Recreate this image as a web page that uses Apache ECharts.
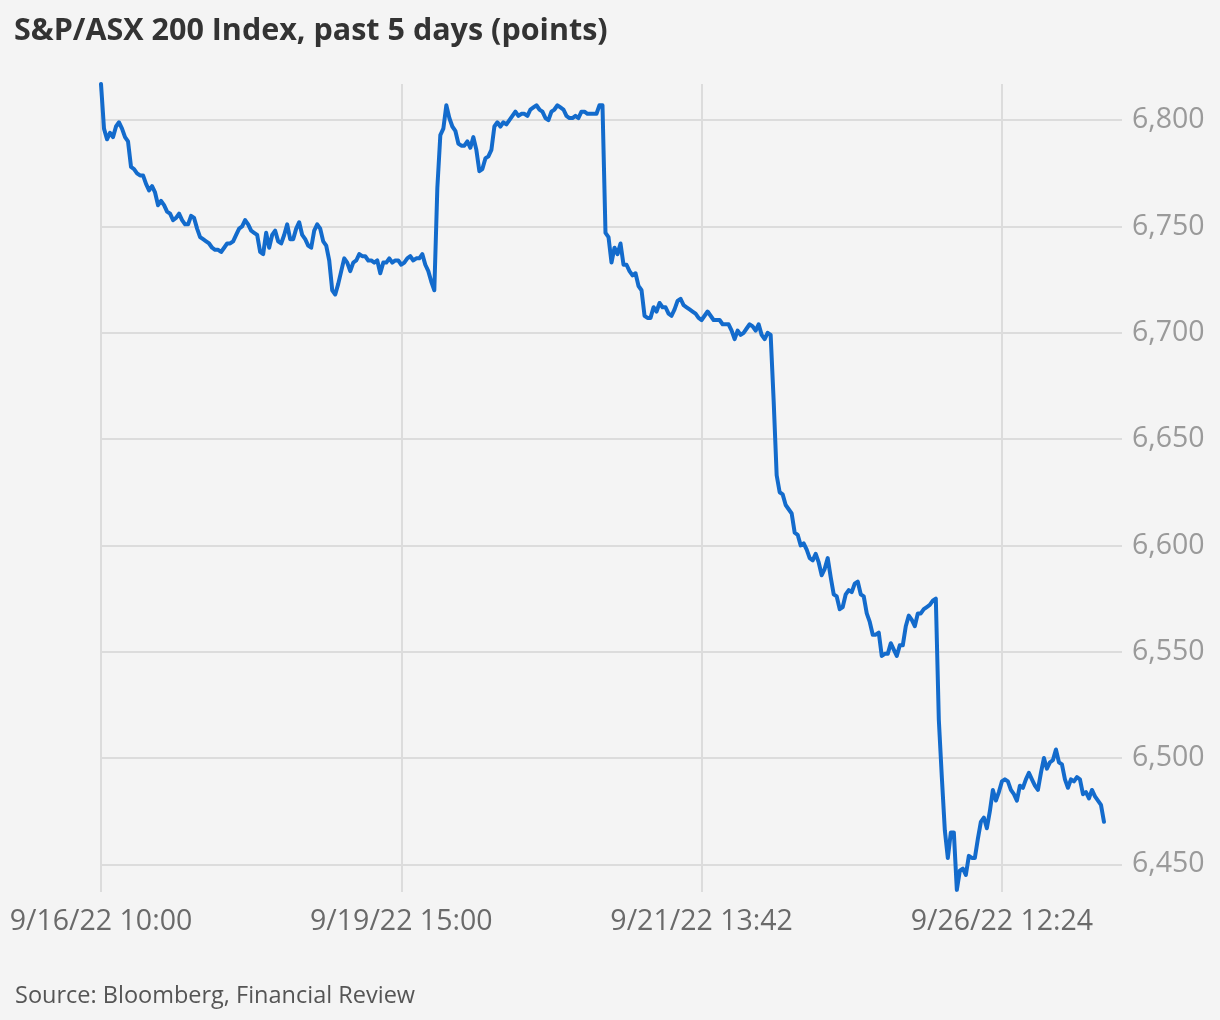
<!DOCTYPE html>
<html><head><meta charset="utf-8">
<script src="https://cdn.jsdelivr.net/npm/echarts@6/dist/echarts.min.js"></script>
<style>html,body{margin:0;padding:0;background:#f4f4f4}#c{width:1220px;height:1020px}</style>
</head><body><div id="c"></div><script>
const titleText = 'S&P/ASX 200 Index, past 5 days (points)';
const sourceText = 'Source: Bloomberg, Financial Review';
const xTickLabels = ['9/16/22 10:00', '9/19/22 15:00', '9/21/22 13:42', '9/26/22 12:24'];
const stepsPerLabel = 100;
const axisSteps = 341;
const yMin = 6437, yMax = 6817, yStep = 50;
const indexValues = [
6817,6796,6791,6794,6792,6797,6799,6796,6792,6790,
6778,6777,6775,6774,6774,6770,6767,6769,6766,6760,
6762,6760,6757,6756,6753,6754,6756,6753,6751,6751,
6755,6754,6749,6745,6744,6743,6742,6740,6739,6739,
6738,6740,6742,6742,6743,6746,6749,6750,6753,6751,
6748,6747,6746,6738,6737,6747,6740,6746,6748,6743,
6742,6746,6751,6744,6744,6749,6752,6746,6744,6741,
6740,6748,6751,6749,6743,6741,6734,6720,6718,6723,
6729,6735,6733,6729,6733,6734,6737,6736,6736,6734,
6734,6733,6734,6728,6733,6733,6735,6733,6734,6734,
6732,6733,6735,6736,6734,6735,6735,6737,6732,6729,
6724,6720,6768,6793,6796,6807,6801,6797,6795,6789,
6788,6788,6790,6787,6792,6786,6776,6777,6782,6783,
6786,6797,6799,6797,6799,6798,6800,6802,6804,6802,
6803,6803,6802,6805,6806,6807,6805,6804,6801,6800,
6804,6805,6807,6806,6805,6802,6801,6801,6802,6801,
6804,6804,6803,6803,6803,6803,6807,6807,6747,6745,
6733,6740,6737,6742,6732,6732,6729,6727,6728,6722,
6720,6708,6707,6707,6712,6710,6714,6712,6712,6709,
6708,6711,6715,6716,6713,6712,6711,6710,6709,6707,
6706,6708,6710,6708,6706,6706,6706,6704,6704,6704,
6701,6697,6701,6699,6700,6702,6704,6703,6701,6704,
6699,6697,6700,6699,6668,6633,6625,6624,6619,6617,
6615,6606,6605,6600,6601,6598,6594,6593,6596,6592,
6586,6589,6594,6585,6577,6576,6570,6571,6577,6579,
6578,6582,6583,6577,6576,6568,6564,6558,6558,6559,
6548,6549,6549,6554,6551,6548,6553,6553,6562,6567,
6565,6562,6568,6568,6570,6571,6572,6574,6575,6518,
6491,6466,6453,6465,6465,6438,6447,6448,6445,6454,
6453,6453,6462,6470,6472,6467,6475,6485,6480,6484,
6489,6490,6489,6485,6483,6480,6487,6486,6490,6493,
6490,6487,6485,6493,6500,6495,6498,6499,6504,6498,
6497,6490,6486,6490,6489,6491,6490,6483,6484,6481,
6485,6482,6480,6478,6470
];

const categories = Array.from({length: axisSteps}, (_, i) => String(i));
const chart = echarts.init(document.getElementById('c'), null, {renderer: 'canvas'});
chart.setOption({
  backgroundColor: '#f4f4f4',
  animation: false,
  title: [
    {text: titleText, left: 9, top: 11,
     textStyle: {fontFamily: 'Open Sans', fontWeight: 'bold', fontSize: 30.5, color: '#333333'}},
    {text: sourceText, left: 10, top: 979,
     textStyle: {fontFamily: 'Open Sans', fontWeight: 'normal', fontSize: 23.5, color: '#555555'}}
  ],
  grid: {left: 101, right: 98, top: 84, bottom: 128, containLabel: false},
  xAxis: {
    type: 'category', data: categories, boundaryGap: false,
    axisLine: {show: false}, axisTick: {show: false},
    axisLabel: {interval: stepsPerLabel - 1, margin: 15, fontFamily: 'Open Sans', fontSize: 28.5, color: '#6a6a6a',
      formatter: (v, idx) => xTickLabels[Math.round(Number(v) / stepsPerLabel)] || ''},
    splitLine: {show: true, interval: stepsPerLabel - 1, lineStyle: {color: '#dcdcdc', width: 2}}
  },
  yAxis: {
    type: 'value', position: 'right', min: yMin, max: yMax, splitNumber: 8,
    minInterval: yStep, maxInterval: yStep,
    axisLine: {show: false}, axisTick: {show: false},
    axisLabel: {margin: 10, fontFamily: 'Open Sans', fontSize: 28.5, color: '#9a9a9a',
      showMinLabel: false, showMaxLabel: false,
      formatter: v => (v % yStep === 0 ? Number(v).toLocaleString('en-US') : '')},
    splitLine: {show: true, showMinLine: false, showMaxLine: false, lineStyle: {color: '#dcdcdc', width: 2}}
  },
  series: [{
    type: 'line', data: indexValues, symbol: 'none', showSymbol: false,
    lineStyle: {color: '#136bcc', width: 4, join: 'round', cap: 'round'}, itemStyle: {color: '#136bcc'}
  }]
});
</script></body></html>
